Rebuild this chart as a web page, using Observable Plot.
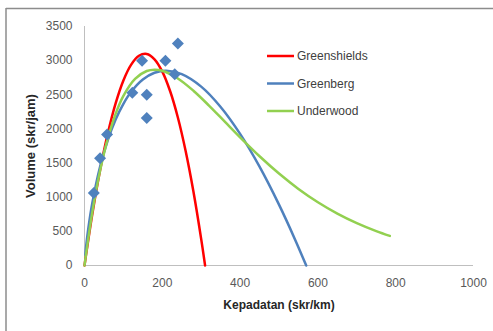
<!DOCTYPE html>
<html>
<head>
<meta charset="utf-8">
<script src="https://cdn.jsdelivr.net/npm/d3@7"></script>
<script src="https://cdn.jsdelivr.net/npm/@observablehq/plot@0.6"></script>
<style>
  html, body { margin: 0; padding: 0; background: #fff; }
  #chart { position: relative; width: 493px; height: 331px; }
</style>
</head>
<body>
<div id="chart"></div>
<script>
// Observed density (skr/km) and volume (skr/jam)
const obsDensity = [24, 40, 58, 123, 148, 160, 160, 208, 232, 240];
const obsVolume  = [1060, 1570, 1920, 2530, 3000, 2500, 2160, 3000, 2800, 3250];

// Greenshields model curve
const gsDensity = [0, 20, 40, 60, 80, 100, 120, 140, 160, 180, 200, 220, 240, 260, 280, 300, 310];
const gsVolume  = [0, 748, 1394, 1935, 2374, 2710, 2942, 3071, 3097, 3019, 2839, 2555, 2168, 1677, 1084, 387, 0];

// Greenberg model curve
const gbDensity = [2, 5, 10, 20, 40, 60, 80, 100, 120, 150, 180, 210, 250, 300, 350, 400, 450, 500, 540, 570];
const gbVolume  = [154, 322, 550, 911, 1445, 1837, 2137, 2367, 2543, 2723, 2822, 2852, 2802, 2619, 2321, 1927, 1447, 891, 397, 0];

// Underwood model curve
const uwDensity = [0, 20, 40, 60, 80, 100, 130, 160, 180, 200, 240, 280, 320, 360, 400, 450, 500, 550, 600, 650, 700, 750, 785];
const uwVolume  = [0, 775, 1387, 1861, 2221, 2485, 2734, 2848, 2867, 2851, 2739, 2559, 2342, 2110, 1877, 1600, 1347, 1122, 927, 761, 621, 504, 434];

const seriesNames  = ["Greenshields", "Greenberg", "Underwood"];
const seriesColors = ["#ff0000", "#4f81bd", "#92d050"];

const xTicks = [0, 200, 400, 600, 800, 1000];
const yTicks = [0, 500, 1000, 1500, 2000, 2500, 3000, 3500];

const toRows = (xs, ys, name) => xs.map((k, i) => ({k, q: ys[i], name}));
const observed = toRows(obsDensity, obsVolume, "Data");
const curves = [
  toRows(gsDensity, gsVolume, seriesNames[0]),
  toRows(gbDensity, gbVolume, seriesNames[1]),
  toRows(uwDensity, uwVolume, seriesNames[2])
];

const font = "'Liberation Sans', Arial, sans-serif";
const tickColor = "#595959";
const plain = d3.format("d");

const plot = Plot.plot({
  width: 493,
  height: 331,
  marginLeft: 84,
  marginRight: 20,
  marginTop: 26,
  marginBottom: 66,
  style: {fontFamily: font, fontSize: "12px", background: "#fff", color: tickColor},
  x: {domain: [0, 1000]},
  y: {domain: [0, 3500]},
  marks: [
    Plot.ruleY([0], {stroke: "#bfbfbf", strokeWidth: 1}),
    Plot.ruleX([0], {stroke: "#bfbfbf", strokeWidth: 1}),
    Plot.axisX({ticks: xTicks, tickFormat: plain, tickSize: 0, tickPadding: 13, label: null, fill: tickColor, fontSize: 12}),
    Plot.axisY({ticks: yTicks, tickFormat: plain, tickSize: 0, tickPadding: 12, label: null, fill: tickColor, fontSize: 12}),
    ...curves.map((rows, i) =>
      Plot.line(rows, {x: "k", y: "q", stroke: seriesColors[i], strokeWidth: 2.5, curve: "catmull-rom"})
    ),
    Plot.dot(observed, {x: "k", y: "q", symbol: "diamond2", r: 5.4, fill: "#4f81bd", stroke: "none"}),
    Plot.text(["Kepadatan (skr/km)"], {frameAnchor: "bottom", dy: 40, lineAnchor: "middle",
      fontWeight: "bold", fontSize: 12, fill: "#262626"}),
    Plot.text(["Volume (skr/jam)"], {frameAnchor: "left", dx: -54, rotate: -90, textAnchor: "middle",
      fontWeight: "bold", fontSize: 13, fill: "#262626"})
  ]
});

document.getElementById("chart").appendChild(plot);

// Chart-area border (top and left edges) and the series legend
const svg = d3.select(plot);
svg.append("line").attr("x1", 6).attr("x2", 493).attr("y1", 8.5).attr("y2", 8.5)
  .attr("stroke", "#8c8c8c").attr("stroke-width", 1.5);
svg.append("line").attr("x1", 6).attr("x2", 6).attr("y1", 8).attr("y2", 331)
  .attr("stroke", "#8c8c8c").attr("stroke-width", 1.5);

const legend = svg.append("g")
  .attr("font-family", font).attr("font-size", 12).attr("text-anchor", "start");
seriesNames.forEach((name, i) => {
  const y = 56 + i * 27.5;
  legend.append("line").attr("x1", 267).attr("x2", 294).attr("y1", y).attr("y2", y)
    .attr("stroke", seriesColors[i]).attr("stroke-width", 2.5);
  legend.append("text").attr("x", 297).attr("y", y).attr("dy", "0.35em")
    .attr("text-anchor", "start").attr("fill", "#404040").text(name);
});
</script>
</body>
</html>
